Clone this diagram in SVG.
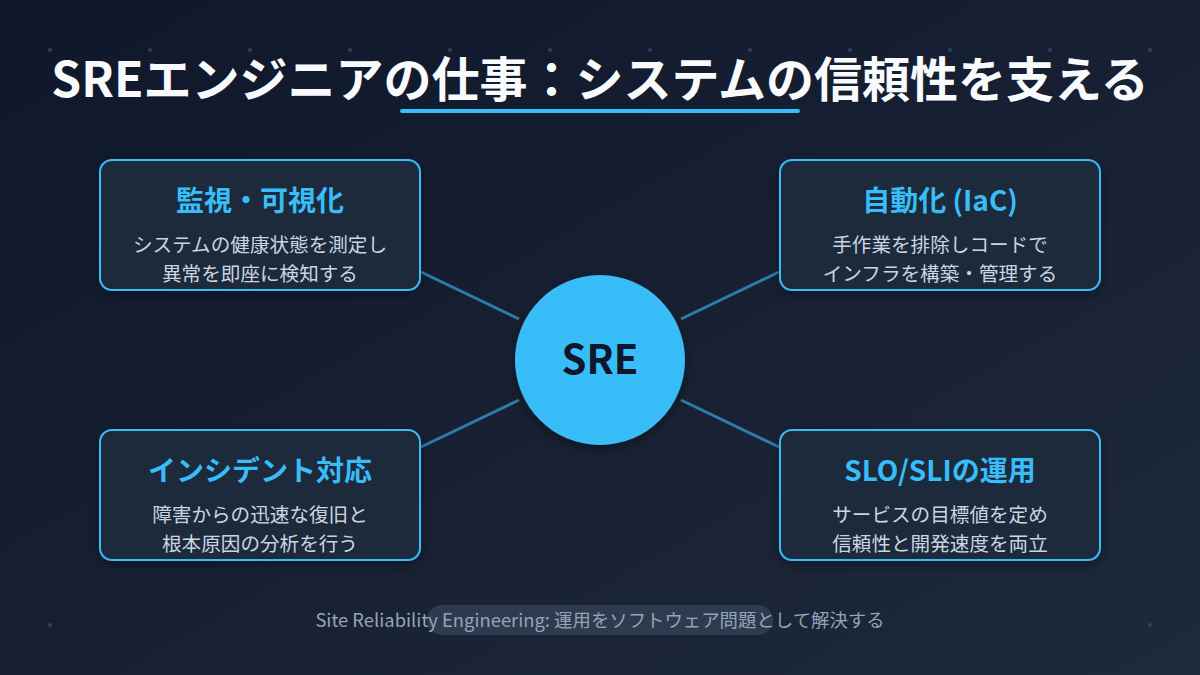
<svg xmlns="http://www.w3.org/2000/svg" width="1200" height="675" viewBox="0 0 1200 675">
<defs>
<linearGradient id="bg" x1="0" y1="0" x2="1" y2="1">
<stop offset="0" stop-color="#0f172a"/>
<stop offset="1" stop-color="#1e293b"/>
</linearGradient>
<filter id="sh" x="-20%" y="-20%" width="140%" height="140%">
<feDropShadow dx="0" dy="4" stdDeviation="6" flood-color="#000" flood-opacity="0.35"/>
</filter>
</defs>
<style>
text{font-family:"Noto Sans CJK JP","Noto Sans",sans-serif;text-anchor:middle}
.box{fill:#1e293b;stroke:#38bdf8;stroke-width:2}
.ttl{font-size:28px;font-weight:bold;fill:#38bdf8}
.desc{font-size:19.6px;fill:#cbd5e1}
.conn{stroke:#38bdf8;stroke-width:3;stroke-opacity:0.6}
.dot{fill:#334155}
</style>
<rect width="1200" height="675" fill="url(#bg)"/>
<g id="dots">
<circle class="dot" cx="50" cy="50" r="2"/><circle class="dot" cx="150" cy="50" r="2"/><circle class="dot" cx="250" cy="50" r="2"/><circle class="dot" cx="350" cy="50" r="2"/><circle class="dot" cx="450" cy="50" r="2"/><circle class="dot" cx="550" cy="50" r="2"/><circle class="dot" cx="650" cy="50" r="2"/><circle class="dot" cx="750" cy="50" r="2"/><circle class="dot" cx="850" cy="50" r="2"/><circle class="dot" cx="950" cy="50" r="2"/><circle class="dot" cx="1050" cy="50" r="2"/><circle class="dot" cx="1150" cy="50" r="2"/>
<circle class="dot" cx="50" cy="625" r="2"/><circle class="dot" cx="1150" cy="625" r="2"/>
</g>
<g id="title">
<text x="600" y="97" font-size="48" font-weight="bold" fill="#f8fafc">SREエンジニアの仕事：システムの信頼性を支える</text>
<rect x="400" y="109" width="400" height="4" rx="2" fill="#38bdf8"/>
</g>
<g id="connectors">
<line class="conn" x1="421" y1="272" x2="519" y2="319"/>
<line class="conn" x1="681" y1="319" x2="779" y2="272"/>
<line class="conn" x1="421" y1="447" x2="519" y2="400"/>
<line class="conn" x1="681" y1="400" x2="779" y2="447"/>
</g>
<g id="center">
<circle cx="600" cy="360" r="85" fill="#38bdf8" filter="url(#sh)"/>
<text x="600" y="374" font-size="40" font-weight="bold" fill="#0f172a">SRE</text>
</g>
<g id="monitoring">
<rect class="box" x="100" y="160" width="320" height="130" rx="12" filter="url(#sh)"/>
<text class="ttl" x="260" y="211">監視・可視化</text>
<text class="desc" x="260" y="252">システムの健康状態を測定し</text>
<text class="desc" x="260" y="281">異常を即座に検知する</text>
</g>
<g id="automation">
<rect class="box" x="780" y="160" width="320" height="130" rx="12" filter="url(#sh)"/>
<text class="ttl" x="940" y="211">自動化 (IaC)</text>
<text class="desc" x="940" y="252">手作業を排除しコードで</text>
<text class="desc" x="940" y="281">インフラを構築・管理する</text>
</g>
<g id="incident">
<rect class="box" x="100" y="430" width="320" height="130" rx="12" filter="url(#sh)"/>
<text class="ttl" x="260" y="481">インシデント対応</text>
<text class="desc" x="260" y="522">障害からの迅速な復旧と</text>
<text class="desc" x="260" y="551">根本原因の分析を行う</text>
</g>
<g id="slo">
<rect class="box" x="780" y="430" width="320" height="130" rx="12" filter="url(#sh)"/>
<text class="ttl" x="940" y="481">SLO/SLIの運用</text>
<text class="desc" x="940" y="522">サービスの目標値を定め</text>
<text class="desc" x="940" y="551">信頼性と開発速度を両立</text>
</g>
<g id="footer">
<rect x="427" y="605" width="346" height="30" rx="15" fill="#334155" fill-opacity="0.8"/>
<text x="600" y="627" font-size="18.4" fill="#94a3b8">Site Reliability Engineering: 運用をソフトウェア問題として解決する</text>
</g>
</svg>
